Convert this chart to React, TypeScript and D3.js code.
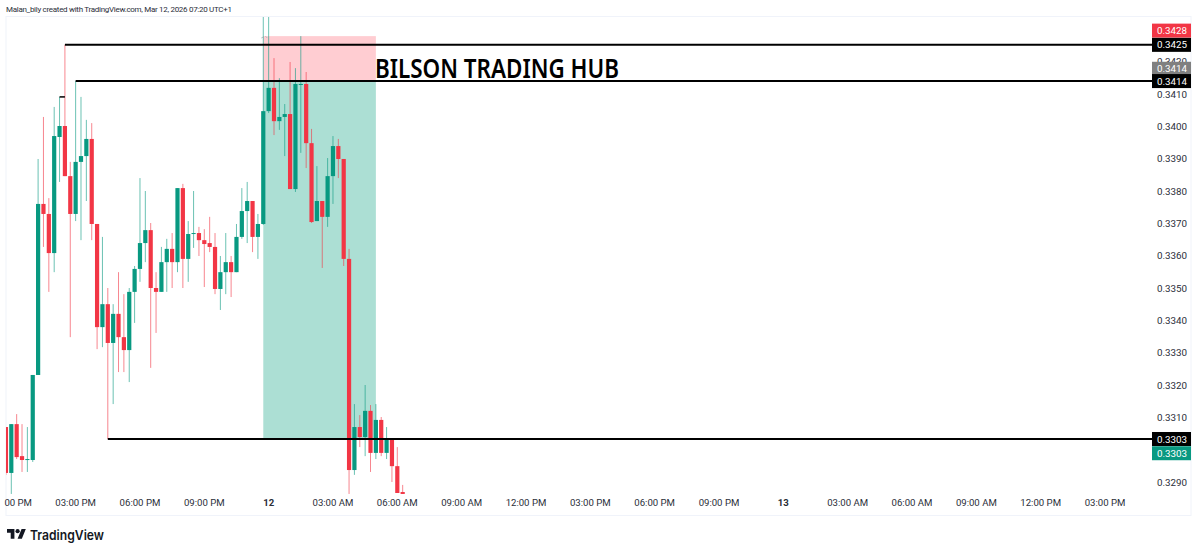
import * as d3 from "d3"

const W = 1200
const H = 553

// 15 minute candles
const opens = [
  0.3307, 0.32928, 0.33079, 0.3298, 0.32968, 0.32968, 0.33231, 0.3376, 0.33729, 0.33608,
  0.33967, 0.34001, 0.33846, 0.33729, 0.3389, 0.33908, 0.33961, 0.33698, 0.33379, 0.3345,
  0.3333, 0.3342, 0.33348, 0.33308, 0.33488, 0.33559, 0.33639, 0.33679, 0.335, 0.33488,
  0.3358, 0.33621, 0.3358, 0.33809, 0.3359, 0.33668, 0.3367, 0.33648, 0.33639, 0.33627,
  0.33497, 0.33549, 0.3358, 0.33549, 0.33658, 0.33738, 0.33769, 0.33658, 0.33698, 0.34047,
  0.34119, 0.34016, 0.34029, 0.34038, 0.33806, 0.34131, 0.34131, 0.33948, 0.33707, 0.33769,
  0.3372, 0.33846, 0.33939, 0.33899, 0.3359, 0.32937, 0.3307, 0.33039, 0.3312, 0.3299,
  0.33092, 0.3299, 0.33033, 0.32949, 0.32869,
]
const highs = [
  0.3307, 0.33079, 0.3311, 0.33079, 0.3307, 0.33231, 0.33899, 0.34029, 0.33778, 0.3406,
  0.34091, 0.34252, 0.3389, 0.3414, 0.34091, 0.3402, 0.3401, 0.33698, 0.33658, 0.335,
  0.3345, 0.33549, 0.33481, 0.335, 0.33568, 0.3384, 0.338, 0.33701, 0.33549, 0.33627,
  0.33652, 0.3367, 0.33809, 0.33822, 0.33707, 0.338, 0.33689, 0.33682, 0.3372, 0.3367,
  0.33599, 0.3367, 0.33599, 0.33698, 0.33809, 0.33828, 0.33769, 0.33729, 0.3436, 0.3436,
  0.34211, 0.34149, 0.34069, 0.34199, 0.3418, 0.34279, 0.34168, 0.33992, 0.33877, 0.33769,
  0.33902, 0.3397, 0.33961, 0.33899, 0.33621, 0.33141, 0.33107, 0.332, 0.33138, 0.33141,
  0.33101, 0.3307, 0.33033, 0.33008, 0.32891,
]
const lows = [
  0.32922, 0.32863, 0.32971, 0.32931, 0.32931, 0.32962, 0.33231, 0.33627, 0.33488, 0.33549,
  0.33828, 0.33846, 0.33348, 0.33707, 0.33648, 0.33769, 0.33648, 0.33311, 0.33317, 0.33033,
  0.33141, 0.3324, 0.3324, 0.33209, 0.33392, 0.33519, 0.3358, 0.33253, 0.33361, 0.33488,
  0.33488, 0.335, 0.33549, 0.335, 0.33519, 0.33624, 0.33599, 0.33503, 0.33611, 0.33481,
  0.33432, 0.33481, 0.33472, 0.33549, 0.33652, 0.33639, 0.33611, 0.3359, 0.33695, 0.34041,
  0.33973, 0.33989, 0.33908, 0.33806, 0.33797, 0.33918, 0.33871, 0.33701, 0.33707, 0.33562,
  0.33689, 0.3376, 0.3384, 0.33568, 0.32863, 0.32922, 0.33008, 0.3298, 0.32931, 0.32971,
  0.3298, 0.32971, 0.329, 0.32866, 0.32863,
]
const closes = [
  0.32928, 0.33079, 0.32977, 0.32968, 0.32971, 0.33231, 0.3376, 0.33729, 0.33608, 0.3397,
  0.34001, 0.33846, 0.33729, 0.3389, 0.33908, 0.33961, 0.33698, 0.33379, 0.3345, 0.3333,
  0.3342, 0.33348, 0.33308, 0.33488, 0.33559, 0.33639, 0.33679, 0.335, 0.33488, 0.3358,
  0.33621, 0.3358, 0.33809, 0.3359, 0.33667, 0.3367, 0.33648, 0.33636, 0.33627, 0.33497,
  0.33549, 0.3358, 0.33549, 0.33658, 0.33738, 0.33769, 0.33658, 0.33698, 0.34047, 0.34119,
  0.34016, 0.34029, 0.34038, 0.33806, 0.34131, 0.34131, 0.33948, 0.33704, 0.33769, 0.3372,
  0.33846, 0.33939, 0.33899, 0.3359, 0.32937, 0.3307, 0.33039, 0.3312, 0.3299, 0.33092,
  0.3299, 0.33033, 0.32949, 0.32866, 0.32863,
]

// 0.3300 sits under the green tag, so it is not listed
const priceTicks = [
  0.329, 0.331, 0.332, 0.333, 0.334, 0.335, 0.336, 0.337, 0.338, 0.339, 0.34, 0.341, 0.342,
]
// one label every 12 candles (3 hours), starting at candle 1; the first is cut by the pane edge
const timeLabels = [
  "00 PM", "03:00 PM", "06:00 PM", "09:00 PM", "12", "03:00 AM", "06:00 AM", "09:00 AM",
  "12:00 PM", "03:00 PM", "06:00 PM", "09:00 PM", "13", "03:00 AM", "06:00 AM", "09:00 AM",
  "12:00 PM", "03:00 PM",
]

// horizontal levels: price, first candle
const levelPrices = [0.34252, 0.3414, 0.33033]
const levelStarts = [11, 13, 19]

const stopPrice = 0.34279
const entryPrice = 0.3414
const targetPrice = 0.33033
const boxStart = 48
const boxEnd = 69

// labels on the price axis: text, centre price, fill
const tagTexts = ["0.3428", "0.3425", "0.3414", "0.3414", "0.3303", "0.3303"]
const tagPrices = [0.34296, 0.34252, 0.34178, 0.3414, 0.33033, 0.32989]
const tagColors = ["#f23645", "#000000", "#808080", "#000000", "#000000", "#089981"]

const UP = "#089981"
const DOWN = "#f23645"
const FONT = "Roboto, sans-serif"

const x = d3.scaleLinear().domain([1, 205]).range([11.3, 1105])
const y = d3.scaleLinear().domain([0.329, 0.341]).range([482, 94])

export default function App() {
  const paneRight = 1152

  return (
    <svg
      width={W}
      height={H}
      viewBox={`0 0 ${W} ${H}`}
      style={{ position: "fixed", left: 0, top: 0, display: "block", background: "#fff" }}
    >
      <defs>
        <clipPath id="pane">
          <rect x={6} y={17} width={paneRight - 6} height={478} />
        </clipPath>
      </defs>

      <text x={6} y={11.5} fontFamily={FONT} fontSize={8} fill="#2a2e39" textLength={226}>
        Malan_bily created with TradingView.com, Mar 12, 2026 07:20 UTC+1
      </text>
      <rect x={6} y={16.5} width={1185} height={499} fill="none" stroke="#f0f3fa" />

      {/* long position box */}
      <rect
        x={x(boxStart)}
        y={y(stopPrice)}
        width={x(boxEnd) - x(boxStart)}
        height={y(entryPrice) - y(stopPrice)}
        fill="#ffcdd2"
      />
      <rect
        x={x(boxStart)}
        y={y(entryPrice)}
        width={x(boxEnd) - x(boxStart)}
        height={y(targetPrice) - y(entryPrice)}
        fill="#acdfd4"
      />
      <path
        d={`M${x(boxStart) - 2} 38l2 -1M${x(boxStart) + 2} 36l2 2`}
        stroke="#b0b0b8"
        strokeWidth={0.8}
        fill="none"
      />

      <g clipPath="url(#pane)">
        {opens.map((o, i) => {
          const c = closes[i]
          const color = c >= o ? UP : DOWN
          const top = y(Math.max(o, c))
          const bottom = y(Math.min(o, c))
          return (
            <g key={i}>
              <line
                x1={x(i)}
                x2={x(i)}
                y1={y(highs[i])}
                y2={y(lows[i])}
                stroke={color}
                strokeOpacity={0.6}
                strokeWidth={1}
              />
              <rect
                x={x(i) - 2.1}
                y={top}
                width={4.2}
                height={Math.max(bottom - top, 1)}
                fill={color}
              />
            </g>
          )
        })}
      </g>

      {levelPrices.map((p, i) => (
        <line
          key={i}
          x1={x(levelStarts[i])}
          x2={paneRight}
          y1={y(p)}
          y2={y(p)}
          stroke="#000"
          strokeWidth={2}
        />
      ))}
      <line x1={x(10)} x2={x(11)} y1={y(0.34091)} y2={y(0.34091)} stroke="#000" strokeWidth={1.5} />

      <text
        x={375}
        y={y(entryPrice) - 3}
        fontFamily="'Liberation Sans Narrow', 'Noto Sans', sans-serif"
        fontSize={27}
        fontWeight={600}
        fill="#000"
        textLength={244}
        lengthAdjust="spacingAndGlyphs"
      >
        BILSON TRADING HUB
      </text>

      {/* price axis */}
      {priceTicks.map((p) => (
        <text
          key={p}
          x={1172}
          y={y(p)}
          dy="0.36em"
          textAnchor="middle"
          fontFamily={FONT}
          fontSize={9.8}
          fill="#2a2e39"
        >
          {p.toFixed(4)}
        </text>
      ))}
      {tagTexts.map((t, i) => (
        <g key={i}>
          <rect x={paneRight} y={y(tagPrices[i]) - 7} width={39} height={14} fill={tagColors[i]} />
          <text
            x={1172}
            y={y(tagPrices[i])}
            dy="0.36em"
            textAnchor="middle"
            fontFamily={FONT}
            fontSize={9.8}
            fill="#fff"
          >
            {t}
          </text>
        </g>
      ))}

      {/* time axis */}
      {timeLabels.map((t, i) => (
        <text
          key={i}
          x={i === 0 ? 32 : x(1 + i * 12)}
          y={506}
          textAnchor={i === 0 ? "end" : "middle"}
          fontFamily={FONT}
          fontSize={9.6}
          fontWeight={t.length < 3 ? 700 : 400}
          fill="#2a2e39"
        >
          {t}
        </text>
      ))}

      {/* TradingView logo */}
      <g transform="translate(7,527) scale(0.53)" fill="#131722">
        <path d="M14 22H7V11H0V4h14v18zM28 22h-8l7.5-18h8L28 22z" />
        <circle cx={20} cy={8} r={4} />
      </g>
      <text
        x={30}
        y={540}
        fontFamily="Inter, Roboto, sans-serif"
        fontSize={13.5}
        fontWeight={600}
        fill="#131722"
        textLength={74}
        lengthAdjust="spacingAndGlyphs"
      >
        TradingView
      </text>
    </svg>
  )
}
